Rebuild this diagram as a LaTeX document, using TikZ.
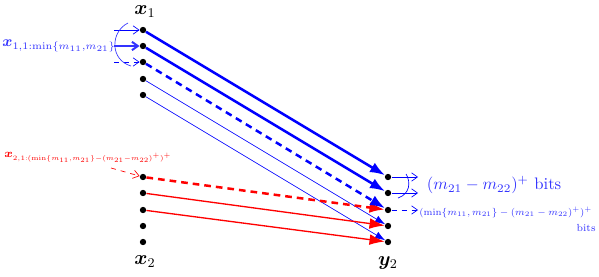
\documentclass[tikz,border=0pt]{standalone}
\usepackage{amsmath,bm}
\usetikzlibrary{arrows.meta}

\tikzset{
  dotnode/.style={circle,fill=black,inner sep=0pt,minimum size=3.8pt},
  bigtip/.style={-{Latex[length=9pt,width=6.5pt]}},
  smalltip/.style={-{Latex[length=6pt,width=4.5pt]}},
  opentip/.style={-{Straight Barb[length=3.5pt,width=5pt]}},
  fat/.style={line width=1.5pt},
  fatdash/.style={line width=1.5pt,dash pattern=on 4pt off 3pt},
}

\begin{document}
\begin{tikzpicture}[x=0.6pt,y=-0.6pt]
        \useasboundingbox(0,0)rectangle(599,277);
        % dots of x_1, x_2 and y_2
        \node[dotnode](x11)at(143,30){};
        \node[dotnode](x12)at(143,46){};
        \node[dotnode](x13)at(143,62){};
        \node[dotnode](x14)at(143,79){};
        \node[dotnode](x15)at(143,95){};
        \node[dotnode](x21)at(143,177){};
        \node[dotnode](x22)at(143,193){};
        \node[dotnode](x23)at(143,210){};
        \node[dotnode](x24)at(143,226){};
        \node[dotnode](x25)at(143,242){};
        \node[dotnode](y21)at(388,177){};
        \node[dotnode](y22)at(388,193){};
        \node[dotnode](y23)at(388,210){};
        \node[dotnode](y24)at(388,226){};
        \node[dotnode](y25)at(388,242){};
        \node[font=\large](lx1)at(145,12){$\bm{x}_1$};
        \node[font=\large](lx2)at(145,262){$\bm{x}_2$};
        \node[font=\large](ly2)at(388,263){$\bm{y}_2$};
        % thin blue links first, then red, then thick blue
        \draw[blue,thin,smalltip](x14)--(y24);
        \draw[blue,thin,smalltip](x15)--(y25);
        \draw[red,fatdash,bigtip](x21)--(y23);
        \draw[red,thick,bigtip](x22)--(y24);
        \draw[red,thick,bigtip](x23)--(y25);
        \draw[blue,fat,bigtip](x11)--(y21);
        \draw[blue,fat,bigtip](x12)--(y22);
        \draw[blue,fatdash,bigtip](x13)--(y23);
        % left side
        \node[blue!80,font=\small,inner sep=0pt,anchor=west](lb)at(2,46){$\bm{x}_{1,1:\min\{m_{11},m_{21}\}}$};
        \coordinate(la1)at(114,30);
        \coordinate(la2)at(114,46);
        \coordinate(la3)at(114,62);
        \draw[blue,opentip](la1)--(x11);
        \draw[blue!80,very thick,opentip](la2)--(x12);
        \draw[blue,dashed,opentip](la3)--(x13);
        \draw[blue!80,thin](128,23)..controls(110,32)and(110,60)..(131,66);
        \node[red,font=\scriptsize,inner sep=0pt,anchor=west](lr)at(4,157){$\bm{x}_{\scalebox{0.8}{$\scriptscriptstyle 2,1:(\min\{m_{11},m_{21}\}-(m_{21}-m_{22})^+)^+$}}$};
        \coordinate(lr1)at(111,168);
        \draw[red,dashed,opentip](lr1)--(x21);
        % right side
        \coordinate(ra1)at(418,177);
        \coordinate(ra2)at(418,193);
        \coordinate(ra3)at(418,210);
        \draw[blue,opentip](y21)--(ra1);
        \draw[blue,opentip](y22)--(ra2);
        \draw[blue,dashed,opentip](y23)--(ra3);
        \draw[blue,thin](406,174)..controls(411,182)and(410,194)..(398,198);
        \node[blue!80,anchor=west](rb1)at(421,185){$(m_{21}-m_{22})^+$ bits};
        \node[blue!80,font=\scriptsize,inner sep=0pt,anchor=west](rb2)at(419,212){\scalebox{0.82}{$(\min\{m_{11},m_{21}\}-(m_{21}-m_{22})^+)^+$}};
        \node[blue!80,font=\scriptsize,inner sep=0pt,anchor=east](rb3)at(596,228){\scalebox{0.88}{bits}};
    \end{tikzpicture}
\end{document}
